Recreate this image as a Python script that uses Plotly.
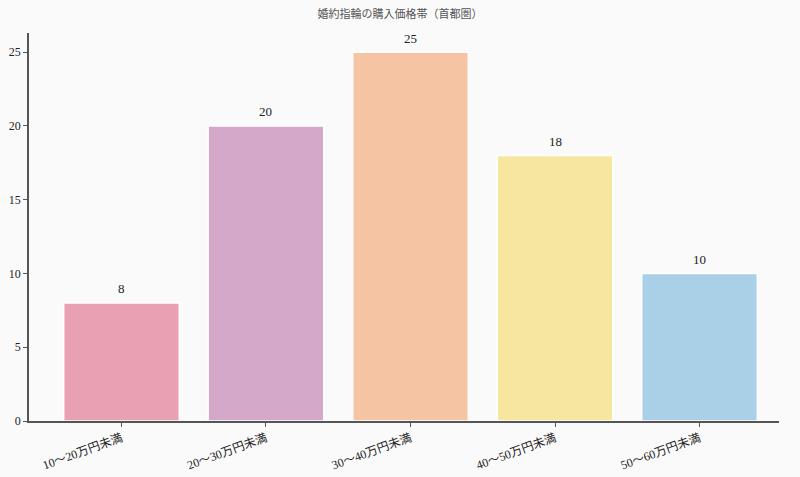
import plotly.graph_objects as go

# price bands and share (%)
categories = ['10～20万円未満', '20～30万円未満', '30～40万円未満', '40～50万円未満', '50～60万円未満']
values = [8, 20, 25, 18, 10]
colors = ['#E8A0B2', '#D4A8C8', '#F5C5A3', '#F7E6A0', '#A9D0E6']

font_family = 'Liberation Serif, Noto Sans CJK JP, serif'

fig = go.Figure()

fig.add_trace(
    go.Bar(
        x=categories,
        y=values,
        width=0.8,
        marker=dict(color=colors, line=dict(color='white', width=1.5)),
        hoverinfo='x+y',
    )
)

# value labels above bars
for c, v in zip(categories, values):
    fig.add_annotation(
        x=c, y=v, text=str(v), showarrow=False,
        yshift=14, font=dict(size=13, color='#222222', family=font_family)
    )

fig.update_layout(
    width=800, height=477,
    title=dict(text='婚約指輪の購入価格帯（首都圏）', x=0.5, xanchor='center', y=0.978,
               font=dict(size=11, color='#555555', family=font_family)),
    paper_bgcolor='#FAFAFA',
    plot_bgcolor='#FAFAFA',
    showlegend=False,
    margin=dict(l=29, r=21, t=33, b=56),
    bargap=0.2,
    font=dict(family=font_family, size=12, color='#222222'),
)

fig.update_xaxes(
    range=[-0.64, 4.55],
    showline=True, linecolor='#555555', linewidth=1.5,
    ticks='outside', ticklen=4, tickcolor='#555555',
    tickangle=-20, showgrid=False, automargin=False,
    tickfont=dict(size=12, family=font_family),
)
fig.update_yaxes(
    range=[0, 26.3],
    tickvals=[0, 5, 10, 15, 20, 25],
    showline=True, linecolor='#555555', linewidth=1.5,
    ticks='outside', ticklen=4, tickcolor='#555555',
    showgrid=False, zeroline=False, automargin=False,
    tickfont=dict(size=12, family=font_family),
)

# drop the default page margin so the figure sits at the window's corner
fig.write_html('out.html', config={'displayModeBar': False},
               post_script="document.body.style.margin='0';")
